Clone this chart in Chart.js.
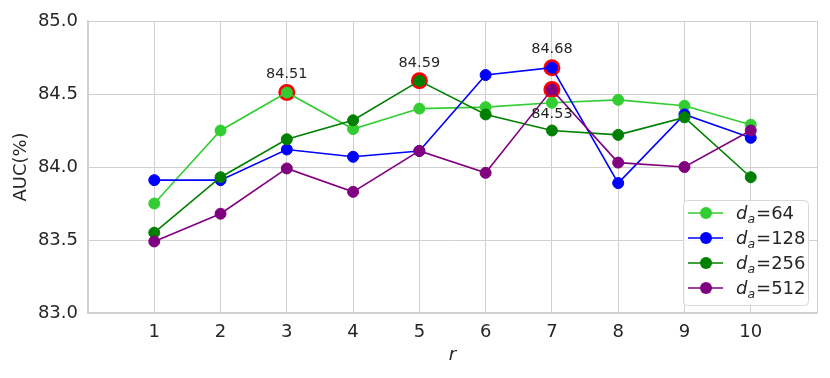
<!DOCTYPE html>
<html>
<head>
<meta charset="utf-8">
<script src="https://cdn.jsdelivr.net/npm/chart.js@4.4.0/dist/chart.umd.min.js"></script>
<style>
html, body { margin: 0; padding: 0; background: #fff; }
#wrap { width: 830px; height: 378px; }
</style>
</head>
<body>
<div id="wrap"><canvas id="aucchart" width="830" height="378"></canvas></div>
<script>
// r values on the x axis
const rValues = [1, 2, 3, 4, 5, 6, 7, 8, 9, 10];
// AUC(%) per d_a
const auc64  = [83.75, 84.25, 84.51, 84.26, 84.40, 84.41, 84.44, 84.46, 84.42, 84.29];
const auc128 = [83.91, 83.91, 84.12, 84.07, 84.11, 84.63, 84.68, 83.89, 84.36, 84.20];
const auc256 = [83.55, 83.93, 84.19, 84.32, 84.59, 84.36, 84.25, 84.22, 84.34, 83.93];
const auc512 = [83.49, 83.68, 83.99, 83.83, 84.11, 83.96, 84.53, 84.03, 84.00, 84.25];
const daNames = ['64', '128', '256', '512'];
const daColors = ['#32cd32', '#0000ff', '#008000', '#800080'];
// best points (red rings + labels)
const bestX = [3, 5, 7, 7];
const bestY = [84.51, 84.59, 84.68, 84.53];
const bestLabels = ['84.51', '84.59', '84.68', '84.53'];
const bestBelow = [false, false, false, true];

const textColor = '#262626';
const gridColor = '#d0d0d0';
const fontFamily = '"DejaVu Sans", sans-serif';

function toPoints(vals) {
    return rValues.map((r, i) => ({ x: r, y: vals[i] }));
}

const seriesData = [auc64, auc128, auc256, auc512];

const datasets = seriesData.map((vals, i) => ({
    label: 'd_a=' + daNames[i],
    data: toPoints(vals),
    borderColor: daColors[i],
    backgroundColor: daColors[i],
    pointBackgroundColor: daColors[i],
    pointBorderColor: daColors[i],
    borderWidth: 1.6,
    pointRadius: 5.5,
    pointBorderWidth: 1,
    tension: 0,
    order: 4 - i
}));

datasets.push({
    label: 'best',
    data: bestX.map((x, i) => ({ x: x, y: bestY[i] })),
    showLine: false,
    pointRadius: 8.5,
    pointBorderWidth: 0,
    pointBackgroundColor: '#ff0000',
    pointBorderColor: '#ff0000',
    order: 10
});

const bestLabelPlugin = {
    id: 'bestLabels',
    afterDatasetsDraw(chart) {
        const { ctx, scales } = chart;
        ctx.save();
        ctx.font = '14.5px ' + fontFamily;
        ctx.fillStyle = textColor;
        ctx.textAlign = 'center';
        ctx.textBaseline = 'middle';
        bestX.forEach((x, i) => {
            const px = scales.x.getPixelForValue(x);
            const py = scales.y.getPixelForValue(bestY[i]);
            ctx.fillText(bestLabels[i], px, bestBelow[i] ? py + 25 : py - 18);
        });
        ctx.restore();
    }
};

const daLegendPlugin = {
    id: 'daLegend',
    afterDraw(chart) {
        const { ctx, chartArea } = chart;
        const boxW = 125, boxH = 105;
        const bx = chartArea.right - 9 - boxW;
        const by = chartArea.bottom - 8 - boxH;
        ctx.save();
        ctx.beginPath();
        ctx.roundRect(bx + 0.5, by + 0.5, boxW, boxH, 4);
        ctx.fillStyle = 'rgba(255,255,255,0.8)';
        ctx.fill();
        ctx.strokeStyle = '#d8d8d8';
        ctx.lineWidth = 1;
        ctx.stroke();

        daNames.forEach((name, i) => {
            const rowY = by + 13 + i * 25;
            ctx.strokeStyle = daColors[i];
            ctx.lineWidth = 1.6;
            ctx.beginPath();
            ctx.moveTo(bx + 5, rowY);
            ctx.lineTo(bx + 40, rowY);
            ctx.stroke();
            ctx.fillStyle = daColors[i];
            ctx.beginPath();
            ctx.arc(bx + 23, rowY, 6, 0, Math.PI * 2);
            ctx.fill();

            const base = rowY + 6;
            let tx = bx + 53;
            ctx.fillStyle = textColor;
            ctx.textBaseline = 'alphabetic';
            ctx.textAlign = 'left';
            ctx.font = 'italic 18px ' + fontFamily;
            ctx.fillText('d', tx, base);
            tx += ctx.measureText('d').width;
            ctx.font = 'italic 12.5px ' + fontFamily;
            ctx.fillText('a', tx, base + 4);
            tx += ctx.measureText('a').width + 1;
            ctx.font = '18px ' + fontFamily;
            ctx.fillText('=' + name, tx, base);
        });
        ctx.restore();
    }
};

const config = {
    type: 'line',
    data: { datasets: datasets },
    options: {
        responsive: false,
        animation: false,
        devicePixelRatio: 1,
        layout: { padding: { top: 21, right: 13, left: 0, bottom: 0 } },
        plugins: {
            legend: { display: false },
            tooltip: { enabled: false }
        },
        scales: {
            x: {
                type: 'linear',
                min: 0,
                max: 11,
                afterFit: function (scale) { scale.height = 65; },
                afterBuildTicks: function (scale) {
                    scale.ticks = [];
                    for (let v = 0; v <= 11; v++) scale.ticks.push({ value: v });
                },
                ticks: {
                    color: textColor,
                    font: { family: fontFamily, size: 18 },
                    padding: 9,
                    maxRotation: 0,
                    autoSkip: false,
                    callback: function (v) { return (v >= 1 && v <= 10) ? String(v) : ''; }
                },
                grid: { color: gridColor, lineWidth: 1, drawTicks: false, tickLength: 0 },
                border: { color: gridColor, width: 1.5 },
                title: {
                    display: true,
                    text: 'r',
                    color: textColor,
                    font: { family: fontFamily, size: 18, style: 'italic', lineHeight: 1.2 },
                    padding: { top: 0, bottom: 12 }
                }
            },
            y: {
                min: 83,
                max: 85,
                afterFit: function (scale) { scale.width = 88; },
                ticks: {
                    stepSize: 0.5,
                    color: textColor,
                    font: { family: fontFamily, size: 18 },
                    padding: 10,
                    callback: function (v) { return Number(v).toFixed(1); }
                },
                grid: { color: gridColor, lineWidth: 1, drawTicks: false, tickLength: 0 },
                border: { color: gridColor, width: 1.5 },
                title: {
                    display: true,
                    text: 'AUC(%)',
                    color: textColor,
                    font: { family: fontFamily, size: 18, lineHeight: 1.2 },
                    padding: { top: 11, bottom: 0 }
                }
            }
        }
    },
    plugins: [bestLabelPlugin, daLegendPlugin]
};

let aucchart = null;
if (document.getElementById('aucchart')) {
    aucchart = new Chart(document.getElementById('aucchart'), config);
}
</script>
</body>
</html>
